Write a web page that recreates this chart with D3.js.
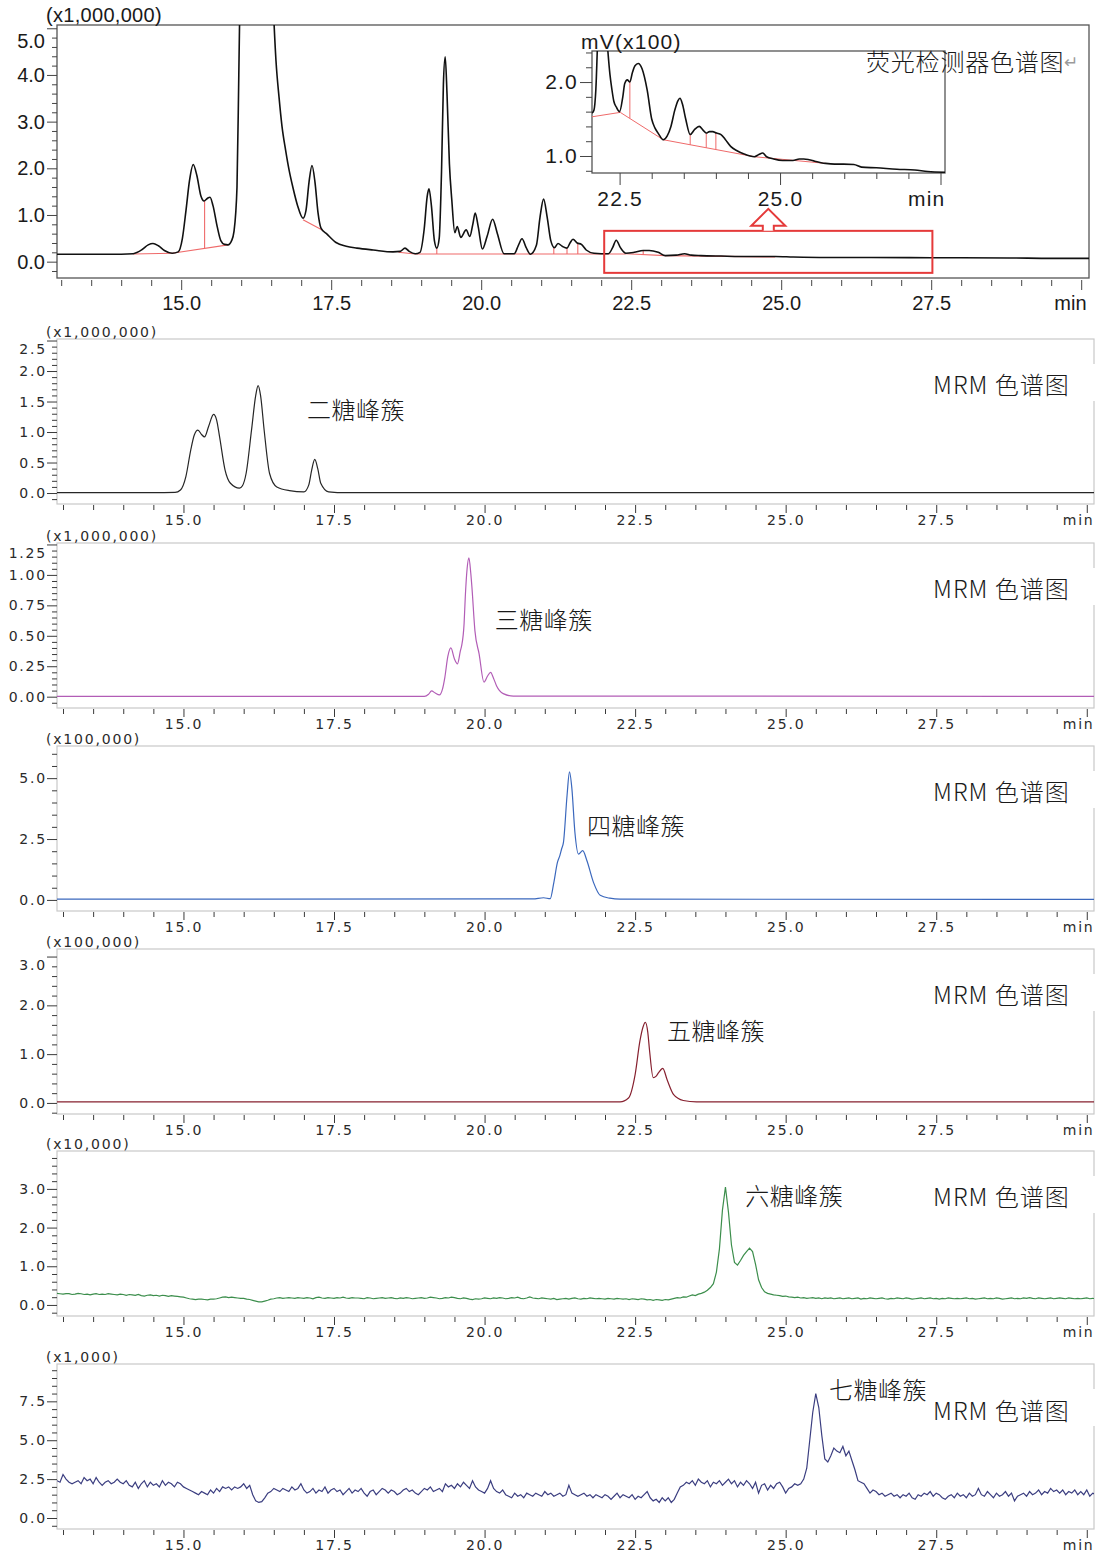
<!DOCTYPE html>
<html lang="zh">
<head>
<meta charset="utf-8">
<title>荧光检测器色谱图与 MRM 色谱图</title>
<script src="https://cdn.jsdelivr.net/npm/d3@7"></script>
<style>
  html, body { margin: 0; padding: 0; background: #fff; }
  svg { display: block; }
</style>
</head>
<body>
<svg id="chart" width="1101" height="1553"></svg>
<script>
// ---------------- Fluorescence detector trace (intensity ×1,000,000) ----------------
const fluoTrace = [
  [12.93,0.16],[13.5,0.16],[14.0,0.16],[14.2,0.17],[14.35,0.26],[14.45,0.36],[14.53,0.39],[14.62,0.34],[14.72,0.24],[14.85,0.18],
  [14.95,0.21],[15.02,0.5],[15.08,1.1],[15.14,1.75],[15.2,2.08],[15.26,1.85],[15.33,1.4],[15.38,1.3],[15.44,1.36],[15.48,1.38],
  [15.53,1.2],[15.6,0.75],[15.66,0.45],[15.72,0.37],[15.78,0.36],[15.84,0.45],[15.88,0.65],[15.93,1.6],[15.96,4.0],[15.99,6.5],
  [16.1,10],[16.3,12],[16.46,8],[16.53,5.6],[16.58,4.3],[16.63,3.53],[16.68,2.9],[16.74,2.39],[16.8,1.95],[16.86,1.6],
  [16.94,1.2],[17.03,0.93],[17.08,1.1],[17.13,1.7],[17.18,2.06],[17.23,1.7],[17.28,1.05],[17.33,0.72],[17.43,0.59],[17.58,0.41],
  [17.75,0.33],[17.93,0.29],[18.2,0.25],[18.53,0.21],[18.65,0.22],[18.73,0.29],[18.8,0.22],[18.9,0.17],[18.98,0.2],[19.05,0.7],
  [19.1,1.4],[19.13,1.56],[19.17,1.2],[19.22,0.45],[19.26,0.29],[19.3,0.5],[19.34,2.0],[19.37,3.8],[19.4,4.39],[19.43,3.6],
  [19.47,2.1],[19.51,1.32],[19.56,0.62],[19.6,0.75],[19.66,0.52],[19.75,0.68],[19.81,0.54],[19.86,0.8],[19.9,1.04],[19.95,0.75],
  [20.02,0.27],[20.1,0.55],[20.19,0.91],[20.27,0.6],[20.38,0.17],[20.55,0.17],[20.62,0.35],[20.68,0.49],[20.75,0.3],[20.82,0.16],
  [20.92,0.35],[20.98,0.95],[21.04,1.34],[21.1,0.95],[21.16,0.45],[21.22,0.3],[21.28,0.39],[21.35,0.33],[21.43,0.29],[21.48,0.4],
  [21.53,0.48],[21.6,0.4],[21.67,0.37],[21.75,0.25],[21.88,0.18],[22.0,0.17],[22.12,0.17],[22.19,0.3],[22.25,0.46],[22.32,0.3],
  [22.41,0.18],[22.55,0.2],[22.7,0.24],[22.8,0.24],[22.95,0.2],[23.07,0.13],[23.25,0.14],[23.39,0.17],[23.5,0.14],[23.66,0.13],
  [24.0,0.12],[24.5,0.11],[24.9,0.11],[25.2,0.1],[25.74,0.09],[26.5,0.09],[27.5,0.085],[28.8,0.08],[29.5,0.07],[30.13,0.07]
];
// Integration baselines [t1, v1, t2, v2] and drop lines [t, vBase, vTop]
const fluoBaselines = [
  [14.2,0.165,14.85,0.18],[14.85,0.18,15.78,0.36],[17.03,0.9,17.35,0.68],
  [18.62,0.2,18.9,0.165],[18.9,0.165,22.41,0.165],[22.41,0.17,23.07,0.13],[23.07,0.13,24.9,0.1]
];
const fluoDrops = [[15.39,0.285,1.3],[19.26,0.165,0.29],[21.21,0.165,0.3],[21.43,0.165,0.29],[21.61,0.165,0.39],[22.7,0.15,0.24]];
const fluoYMajor = [0, 1, 2, 3, 4, 5];
const timeMajor = [15, 17.5, 20, 22.5, 25, 27.5, 30];
// Highlighted window on the main trace: [tStart, tEnd, vLow, vHigh]
const zoomWindow = [22.05, 27.52, -0.24, 0.66];

// ---------------- Expanded view 22–27.5 min (mV ×100) ----------------
const insetTrace = [
  [22.07,1.58],[22.1,1.62],[22.13,1.9],[22.16,2.6],[22.2,3.2],[22.27,3.0],[22.31,2.5],[22.35,2.1],[22.38,1.9],[22.41,1.74],
  [22.45,1.66],[22.5,1.6],[22.55,1.8],[22.58,1.98],[22.62,2.03],[22.66,2.0],[22.7,2.13],[22.74,2.22],[22.79,2.25],[22.85,2.18],
  [22.93,1.89],[23.0,1.5],[23.05,1.38],[23.1,1.31],[23.18,1.22],[23.24,1.27],[23.3,1.4],[23.36,1.62],[23.41,1.75],[23.44,1.78],
  [23.48,1.7],[23.53,1.5],[23.6,1.29],[23.67,1.36],[23.74,1.4],[23.8,1.35],[23.85,1.31],[23.9,1.33],[23.95,1.33],[24.01,1.31],
  [24.08,1.29],[24.15,1.22],[24.23,1.13],[24.33,1.07],[24.43,1.03],[24.6,0.99],[24.67,1.02],[24.73,1.04],[24.79,0.99],[24.9,0.96],
  [25.04,0.94],[25.2,0.94],[25.3,0.96],[25.37,0.96],[25.45,0.95],[25.54,0.93],[25.71,0.9],[25.85,0.89],[25.99,0.89],[26.15,0.885],
  [26.27,0.85],[26.5,0.84],[26.82,0.82],[27.1,0.81],[27.3,0.79],[27.57,0.78]
];
const insetBaselines = [[22.07,1.53,22.51,1.59],[22.51,1.59,23.18,1.22],[23.18,1.22,24.6,0.99],[24.6,0.99,25.71,0.9]];
const insetDrops = [[22.66,1.51,2.0],[23.6,1.15,1.29],[23.85,1.11,1.31],[24.0,1.085,1.31]];
const insetYMajor = [1, 2];
const insetXMajor = [22.5, 25, 27.5];

// ---------------- MRM traces ----------------
const diTrace = [
  [12.9,0.005],[14.5,0.005],[14.86,0.01],[14.95,0.05],[15.04,0.27],[15.12,0.7],[15.18,0.95],[15.24,1.03],[15.3,0.96],[15.35,0.92],
  [15.42,1.1],[15.5,1.29],[15.55,1.2],[15.6,0.92],[15.69,0.38],[15.78,0.16],[15.93,0.08],[15.98,0.12],[16.04,0.32],[16.13,1.03],
  [16.2,1.6],[16.24,1.76],[16.28,1.6],[16.34,1.03],[16.43,0.32],[16.55,0.1],[16.76,0.04],[17.0,0.02],[17.08,0.13],[17.13,0.38],
  [17.18,0.55],[17.23,0.4],[17.28,0.16],[17.41,0.02],[17.7,0.005],[30.12,0.005]
];
const triTrace = [
  [12.9,0.003],[19.0,0.003],[19.07,0.02],[19.12,0.047],[19.18,0.03],[19.25,0.014],[19.3,0.06],[19.34,0.157],[19.39,0.33],[19.44,0.4],
  [19.5,0.31],[19.55,0.27],[19.6,0.38],[19.62,0.42],[19.66,0.6],[19.68,0.82],[19.71,1.05],[19.74,1.14],[19.77,1.02],[19.79,0.9],
  [19.84,0.54],[19.91,0.35],[19.99,0.12],[20.05,0.17],[20.1,0.2],[20.15,0.15],[20.2,0.088],[20.31,0.025],[20.48,0.005],[30.12,0.003]
];
const tetraTrace = [
  [12.9,0.03],[20.8,0.04],[20.98,0.09],[21.09,0.05],[21.15,0.71],[21.21,1.54],[21.25,1.82],[21.28,2.1],[21.31,2.36],[21.37,4.3],
  [21.41,5.26],[21.45,4.57],[21.5,2.78],[21.56,1.88],[21.63,2.02],[21.7,1.61],[21.81,0.71],[21.92,0.19],[22.08,0.07],[22.25,0.03],[30.12,0.02]
];
const pentaTrace = [
  [12.9,0.02],[22.25,0.02],[22.39,0.1],[22.5,0.58],[22.58,1.27],[22.63,1.55],[22.67,1.65],[22.71,1.45],[22.74,1.07],[22.8,0.52],
  [22.85,0.55],[22.89,0.62],[22.96,0.71],[23.03,0.48],[23.14,0.17],[23.3,0.05],[23.52,0.02],[30.12,0.02]
];
// Noisy traces acquired on a 0.05 min grid starting at 12.90 min
const gridStart = 12.9, gridStep = 0.05;
const hexaValues = [
  .30,.29,.28,.29,.29,.27,.28,.30,.29,.27,.28,.26,.28,.29,.27,.28,.27,.29,.28,.27,
  .26,.28,.27,.25,.27,.26,.25,.27,.24,.23,.25,.26,.24,.25,.23,.25,.24,.22,.24,.23,
  .22,.21,.20,.18,.16,.15,.14,.15,.15,.14,.13,.15,.15,.16,.18,.20,.21,.19,.20,.19,
  .18,.17,.17,.15,.14,.12,.10,.08,.08,.10,.12,.15,.16,.18,.19,.17,.18,.19,.18,.17,
  .19,.18,.17,.19,.18,.16,.19,.20,.18,.17,.19,.18,.17,.19,.18,.20,.18,.17,.19,.18,
  .18,.17,.16,.19,.18,.16,.17,.18,.19,.17,.18,.19,.17,.16,.18,.17,.19,.18,.16,.17,
  .18,.19,.17,.18,.20,.19,.18,.16,.17,.19,.18,.20,.19,.17,.16,.18,.17,.15,.14,.16,
  .15,.16,.18,.17,.16,.18,.17,.19,.18,.16,.17,.19,.18,.20,.17,.16,.18,.21,.18,.17,
  .16,.18,.17,.16,.15,.17,.14,.15,.16,.17,.15,.17,.18,.16,.15,.17,.16,.18,.17,.16,
  .17,.16,.15,.17,.16,.15,.17,.16,.15,.16,.14,.16,.15,.14,.16,.15,.13,.14,.12,.14,
  .13,.12,.14,.13,.15,.17,.19,.18,.21,.20,.23,.26,.24,.28,.30,.33,.38,.45,.55,.85,
  1.45,2.45,3.05,2.4,1.55,1.10,1.03,1.15,1.28,1.38,1.47,1.38,1.05,0.65,0.45,0.34,0.30,0.28,0.26,0.25,
  .24,.22,.23,.21,.20,.19,.20,.18,.19,.17,.18,.19,.17,.18,.16,.18,.17,.18,.16,.17,
  .18,.16,.17,.18,.16,.17,.18,.15,.17,.16,.18,.17,.16,.17,.18,.16,.15,.17,.16,.18,
  .17,.16,.18,.17,.15,.16,.17,.18,.16,.17,.18,.16,.17,.15,.17,.16,.18,.17,.16,.17,
  .16,.17,.18,.16,.17,.15,.16,.17,.18,.16,.17,.16,.18,.17,.15,.16,.17,.18,.16,.17,
  .16,.18,.17,.19,.17,.16,.18,.17,.16,.17,.18,.16,.17,.18,.17,.16,.18,.17,.16,.17,
  .16,.17,.18,.16,.17,.16
];
const heptaValues = [
  2.4,2.3,2.8,2.5,2.3,2.2,2.3,2.4,2.2,2.6,2.4,2.5,2.2,2.6,2.3,2.1,2.3,2.4,2.2,2.3,
  2.5,2.3,2.2,2.4,2.1,2.0,2.3,1.9,2.2,2.4,2.0,2.3,2.1,2.2,2.0,2.4,2.1,2.3,2.2,2.0,
  2.3,2.2,2.0,1.9,1.8,1.7,1.6,1.5,1.7,1.6,1.5,1.8,1.6,1.9,1.7,2.0,1.9,2.0,1.8,2.0,
  1.9,2.0,2.2,1.9,2.1,1.5,1.1,1.0,1.05,1.3,1.6,1.7,1.9,1.8,1.7,1.9,1.8,1.7,2.0,1.8,
  1.9,2.2,1.8,1.6,1.7,1.9,1.6,1.8,1.7,2.0,1.6,1.8,1.9,1.7,1.8,1.5,1.7,1.9,1.6,1.8,
  1.7,1.9,1.6,1.4,1.7,1.8,1.5,1.7,1.9,1.8,1.6,1.8,1.7,1.5,1.6,1.8,1.9,1.7,1.8,1.6,
  1.5,1.7,1.9,1.8,2.0,1.7,1.8,1.9,1.7,2.2,2.0,2.1,1.9,2.2,2.0,2.3,2.1,1.9,2.4,2.0,
  1.8,1.7,1.6,1.9,2.4,1.9,1.7,1.6,1.8,1.5,1.4,1.3,1.6,1.4,1.5,1.3,1.6,1.5,1.4,1.6,
  1.5,1.4,1.7,1.5,1.6,1.4,1.5,1.6,1.4,1.5,2.1,1.6,1.5,1.4,1.5,1.6,1.4,1.5,1.3,1.5,
  1.4,1.3,1.5,1.4,1.2,1.4,1.6,1.3,1.5,1.4,1.3,1.5,1.2,1.4,1.3,1.5,1.7,1.3,1.1,1.2,
  1.0,1.3,1.1,1.3,1.0,1.2,1.6,2.0,2.1,2.3,2.2,2.4,2.1,2.5,2.3,2.2,2.4,2.0,2.3,2.2,
  2.4,2.1,2.3,2.5,2.2,2.4,2.0,2.3,2.1,2.4,2.2,1.9,2.3,1.6,2.1,2.2,1.8,2.1,1.9,2.2,
  2.3,2.0,1.6,1.9,2.0,2.2,2.1,2.2,2.5,3.2,5.0,6.8,8.0,7.1,5.3,3.8,3.6,4.0,4.5,4.3,
  4.2,4.6,4.0,4.3,3.7,3.1,2.4,2.3,2.2,1.9,1.6,1.8,1.7,1.5,1.6,1.4,1.5,1.6,1.4,1.5,
  1.3,1.5,1.4,1.6,1.3,1.2,1.5,1.4,1.6,1.5,1.7,1.4,1.6,1.5,1.3,1.2,1.4,1.5,1.3,1.6,
  1.4,1.5,1.3,1.6,1.4,1.5,1.9,1.5,1.4,1.7,1.5,1.3,1.6,1.4,1.5,1.7,1.4,1.6,1.1,1.4,
  1.5,1.6,1.4,1.7,1.5,1.6,1.8,1.5,1.7,1.6,1.9,1.7,1.8,1.6,1.8,1.5,1.7,1.6,1.8,1.5,
  1.7,1.5,1.8,1.4,1.6,1.5
];

const clusterNames = ["二糖峰簇", "三糖峰簇", "四糖峰簇", "五糖峰簇", "六糖峰簇", "七糖峰簇"];
const unitLabels = ["(x1,000,000)", "(x1,000,000)", "(x100,000)", "(x100,000)", "(x10,000)", "(x1,000)"];
const mrmYMajor = [[0,0.5,1,1.5,2,2.5],[0,0.25,0.5,0.75,1,1.25],[0,2.5,5],[0,1,2,3],[0,1,2,3],[0,2.5,5,7.5]];
const mrmYMinorStep = [0.1, 0.05, 0.5, 0.2, 0.2, 0.5];
const mrmYFormat = [".1f", ".2f", ".1f", ".1f", ".1f", ".1f"];

// ---------------- helpers ----------------
const svg = d3.select("#chart");
const defs = svg.append("defs");
const CJK = '"Noto Sans CJK SC", "Noto Sans CJK JP", sans-serif';

function stepsIn(lo, hi, step) {
  const out = [];
  const n0 = Math.ceil(lo / step - 1e-9), n1 = Math.floor(hi / step + 1e-9);
  for (let k = n0; k <= n1; k++) out.push(+(k * step).toFixed(4));
  return out;
}
function minorsOf(domain, step, majors) {
  return stepsIn(domain[0], domain[1], step).filter(v => !majors.some(m => Math.abs(m - v) < 1e-6));
}
function clip(id, x, y, w, h) {
  defs.append("clipPath").attr("id", id).append("rect")
    .attr("x", x).attr("y", y).attr("width", w).attr("height", h);
  return `url(#${id})`;
}
function drawYAxis(g, y, left, top, majors, minors, fmt, o) {
  const gm = g.append("g").attr("transform", `translate(${left},0)`)
    .call(d3.axisLeft(y).tickValues(minors).tickSize(o.minorLen).tickFormat(""));
  const gM = g.append("g").attr("transform", `translate(${left},0)`)
    .call(d3.axisLeft(y).tickValues(majors).tickSize(o.majorLen).tickPadding(o.pad).tickFormat(d3.format(fmt)));
  [gm, gM].forEach(a => {
    a.select(".domain").remove();
    a.selectAll("line").attr("stroke", o.tickColor).attr("stroke-width", o.tickWidth || 1);
  });
  gM.selectAll("text").attr("font-family", o.font).attr("font-size", o.fs)
    .attr("letter-spacing", o.ls || 0).attr("fill", o.textColor);
  // keep the topmost label inside the plot frame
  gM.selectAll(".tick text").filter(d => y(d) - top < o.fs * 0.6).attr("dy", "0.95em");
}
function drawXAxis(g, x, axisY, right, majors, minors, fmt, o) {
  const gm = g.append("g").attr("transform", `translate(0,${axisY})`)
    .call(d3.axisBottom(x).tickValues(minors).tickSize(o.minorLen).tickFormat(""));
  const gM = g.append("g").attr("transform", `translate(0,${axisY})`)
    .call(d3.axisBottom(x).tickValues(majors).tickSize(o.majorLen).tickPadding(o.pad)
      .tickFormat(d => d === o.unitAt ? "min" : d3.format(fmt)(d)));
  [gm, gM].forEach(a => {
    a.select(".domain").remove();
    a.selectAll("line").attr("stroke", o.tickColor).attr("stroke-width", o.tickWidth || 1);
  });
  gM.selectAll("text").attr("font-family", o.font).attr("font-size", o.fs)
    .attr("letter-spacing", o.ls || 0).attr("fill", o.textColor);
  gM.selectAll(".tick text").filter(d => d === o.unitAt)
    .attr("text-anchor", "end").attr("x", right - x(o.unitAt) - o.unitInset);
}
const segLine = (g, x, y, segs, color, w) => g.selectAll(null).data(segs).join("line")
  .attr("x1", d => x(d[0])).attr("y1", d => y(d[1])).attr("x2", d => x(d[2])).attr("y2", d => y(d[3]))
  .attr("stroke", color).attr("stroke-width", w);
const dropLine = (g, x, y, drops, color, w) => g.selectAll(null).data(drops).join("line")
  .attr("x1", d => x(d[0])).attr("y1", d => y(d[1])).attr("x2", d => x(d[0])).attr("y2", d => y(d[2]))
  .attr("stroke", color).attr("stroke-width", w);

// ================= Fluorescence chromatogram =================
{
  const L = 57, R = 1089, T = 25, B = 278;
  const x = d3.scaleLinear().domain([12.93, 30.13]).range([L, R]);
  const y = d3.scaleLinear().domain([-0.35, 5.07]).range([B, T]);
  const g = svg.append("g");
  const red = "#ef6a6a";
  const line = d3.line().x(d => x(d[0])).y(d => y(d[1])).curve(d3.curveMonotoneX);

  g.append("rect").attr("x", L).attr("y", T).attr("width", R - L).attr("height", B - T)
    .attr("fill", "#fff").attr("stroke", "#555").attr("stroke-width", 1.3);

  const axisStyle = { font: '"Liberation Sans", Arial, sans-serif', fs: 20, textColor: "#1a1a1a", tickColor: "#444" };
  drawYAxis(g, y, L, T, fluoYMajor, minorsOf(y.domain(), 0.2, fluoYMajor), ".1f",
    { ...axisStyle, majorLen: 10, minorLen: 5, pad: 2 });
  drawXAxis(g, x, B + 2, R, timeMajor, minorsOf([13, 30], 0.5, timeMajor), ".1f",
    { ...axisStyle, majorLen: 10, minorLen: 6, pad: 6, unitAt: 30, unitInset: 3 });

  g.append("text").attr("x", 46).attr("y", 15).attr("dominant-baseline", "central")
    .attr("font-family", axisStyle.font).attr("font-size", 20).attr("letter-spacing", 0.3)
    .attr("fill", "#1a1a1a").text("(x1,000,000)");

  const cp = clip("clip-fluo", L, T, R - L, B - T);
  const inner = g.append("g").attr("clip-path", cp);
  segLine(inner, x, y, fluoBaselines, red, 1.1);
  dropLine(inner, x, y, fluoDrops, red, 1.1);
  inner.append("path").datum(fluoTrace).attr("d", line)
    .attr("fill", "none").attr("stroke", "#111").attr("stroke-width", 1.6);

  // highlighted window and the arrow pointing to the expanded view
  const [w0, w1, v0, v1] = zoomWindow;
  const bx0 = x(w0), bx1 = x(w1), by0 = y(v1), by1 = y(v0);
  const boxRed = "#e53a3a";
  g.append("rect").attr("x", bx0).attr("y", by0).attr("width", bx1 - bx0).attr("height", by1 - by0)
    .attr("fill", "none").attr("stroke", boxRed).attr("stroke-width", 2);
  const cx = (bx0 + bx1) / 2;
  g.append("path")
    .attr("d", `M${cx - 5.5},${by0} L${cx - 5.5},${by0 - 5} L${cx - 17},${by0 - 5} L${cx},${by0 - 22} L${cx + 17},${by0 - 5} L${cx + 5.5},${by0 - 5} L${cx + 5.5},${by0}`)
    .attr("fill", "#fff").attr("stroke", boxRed).attr("stroke-width", 2).attr("stroke-linejoin", "miter");

  // ---------- expanded view ----------
  const iL = 592, iR = 945, iT = 51, iB = 173;
  const ix = d3.scaleLinear().domain([22.07, 27.57]).range([iL, iR]);
  const iy = d3.scaleLinear().domain([0.77, 2.42]).range([iB, iT]);
  const ig = g.append("g");
  ig.append("rect").attr("x", iL).attr("y", iT).attr("width", iR - iL).attr("height", iB - iT)
    .attr("fill", "#fff").attr("stroke", "#555").attr("stroke-width", 1.3);
  const iStyle = { font: '"Liberation Sans", Arial, sans-serif', fs: 21, ls: 1.2, textColor: "#1a1a1a", tickColor: "#444" };
  drawYAxis(ig, iy, iL, iT, insetYMajor, minorsOf(iy.domain(), 0.2, insetYMajor), ".1f",
    { ...iStyle, majorLen: 12, minorLen: 6, pad: 2 });
  drawXAxis(ig, ix, iB, iR, insetXMajor, minorsOf([22.5, 27.5], 0.5, insetXMajor), ".1f",
    { ...iStyle, majorLen: 12, minorLen: 6, pad: 6, unitAt: 27.5, unitInset: 0 });
  ig.append("text").attr("x", 581).attr("y", 41).attr("dominant-baseline", "central")
    .attr("font-family", iStyle.font).attr("font-size", 21).attr("letter-spacing", 1.2)
    .attr("fill", "#1a1a1a").text("mV(x100)");
  const icp = clip("clip-inset", iL, iT, iR - iL, iB - iT);
  const iin = ig.append("g").attr("clip-path", icp);
  segLine(iin, ix, iy, insetBaselines, red, 1);
  dropLine(iin, ix, iy, insetDrops, red, 1);
  iin.append("path").datum(insetTrace)
    .attr("d", d3.line().x(d => ix(d[0])).y(d => iy(d[1])).curve(d3.curveMonotoneX))
    .attr("fill", "none").attr("stroke", "#111").attr("stroke-width", 1.6);

  // title
  g.append("text").attr("x", 866).attr("y", 60).attr("dominant-baseline", "central")
    .attr("font-family", CJK).attr("font-weight", 300).attr("font-size", 24).attr("letter-spacing", 0.8)
    .attr("fill", "#1a1a1a").text("荧光检测器色谱图");
  g.append("text").attr("x", 1064).attr("y", 62).attr("dominant-baseline", "central")
    .attr("font-family", '"DejaVu Sans", sans-serif').attr("font-size", 17)
    .attr("fill", "#9a9a9a").text("↵");
}

// ================= MRM chromatograms =================
const mrmPanels = [
  { trace: diTrace,    color: "#262626", top: 339,  yDomain: [-0.18, 2.525],  curve: d3.curveMonotoneX, labelAt: [17.05, 1.38] },
  { trace: triTrace,   color: "#b25db6", top: 543,  yDomain: [-0.093, 1.262], curve: d3.curveMonotoneX, labelAt: [20.17, 0.64] },
  { trace: tetraTrace, color: "#3b68bd", top: 746,  yDomain: [-0.455, 6.32],  curve: d3.curveMonotoneX, labelAt: [21.70, 3.10] },
  { trace: pentaTrace, color: "#86202f", top: 949,  yDomain: [-0.227, 3.155], curve: d3.curveMonotoneX, labelAt: [23.03, 1.51] },
  { trace: hexaValues.map((v, i) => [gridStart + i * gridStep, v]),  color: "#3c8e4c", top: 1151, yDomain: [-0.286, 3.98], curve: d3.curveLinear, labelAt: [24.33, 2.86] },
  { trace: heptaValues.map((v, i) => [gridStart + i * gridStep, v]), color: "#3b3e80", top: 1364, yDomain: [-0.707, 9.9],  curve: d3.curveLinear, labelAt: [25.72, 8.35] }
];

mrmPanels.forEach((p, i) => {
  const L = 57, R = 1094, T = p.top, B = p.top + 165;
  const x = d3.scaleLinear().domain([12.9, 30.12]).range([L, R]);
  const y = d3.scaleLinear().domain(p.yDomain).range([B, T]);
  const g = svg.append("g");
  g.append("rect").attr("x", L).attr("y", T).attr("width", R - L).attr("height", B - T)
    .attr("fill", "#fff").attr("stroke", "#c9c9c9").attr("stroke-width", 1.2);

  const st = { font: '"DejaVu Sans", Verdana, sans-serif', fs: 14, ls: 1.8, textColor: "#2a2a2a", tickColor: "#3a3a3a" };
  drawYAxis(g, y, L, T, mrmYMajor[i], minorsOf(p.yDomain, mrmYMinorStep[i], mrmYMajor[i]), mrmYFormat[i],
    { ...st, majorLen: 10, minorLen: 5, pad: 0 });
  drawXAxis(g, x, B + 1, R, timeMajor, minorsOf([13, 30], 0.5, timeMajor), ".1f",
    { ...st, majorLen: 8, minorLen: 5, pad: 2, unitAt: 30, unitInset: 0 });

  g.append("text").attr("x", 46).attr("y", T - 7).attr("dominant-baseline", "central")
    .attr("font-family", st.font).attr("font-size", 14).attr("letter-spacing", 1.8)
    .attr("fill", "#2a2a2a").text(unitLabels[i]);

  const cp = clip("clip-mrm-" + i, L, T, R - L, B - T);
  g.append("path").datum(p.trace).attr("clip-path", cp)
    .attr("d", d3.line().x(d => x(d[0])).y(d => y(d[1])).curve(p.curve))
    .attr("fill", "none").attr("stroke", p.color).attr("stroke-width", 1.2);

  // panel title on a white plate (it overlaps the right border)
  g.append("rect").attr("x", 926).attr("y", T + 25).attr("width", 172).attr("height", 37).attr("fill", "#fff");
  g.append("text").attr("x", 933).attr("y", T + 44 + (i === 5 ? 1 : 0)).attr("dominant-baseline", "central")
    .attr("font-family", CJK).attr("font-weight", 300).attr("font-size", 24).attr("letter-spacing", 1)
    .attr("fill", "#1a1a1a").text("MRM 色谱图");

  g.append("text").attr("x", x(p.labelAt[0])).attr("y", y(p.labelAt[1])).attr("dominant-baseline", "central")
    .attr("font-family", CJK).attr("font-weight", 300).attr("font-size", 24).attr("letter-spacing", 0.5)
    .attr("fill", "#1a1a1a").text(clusterNames[i]);
});
</script>
</body>
</html>
